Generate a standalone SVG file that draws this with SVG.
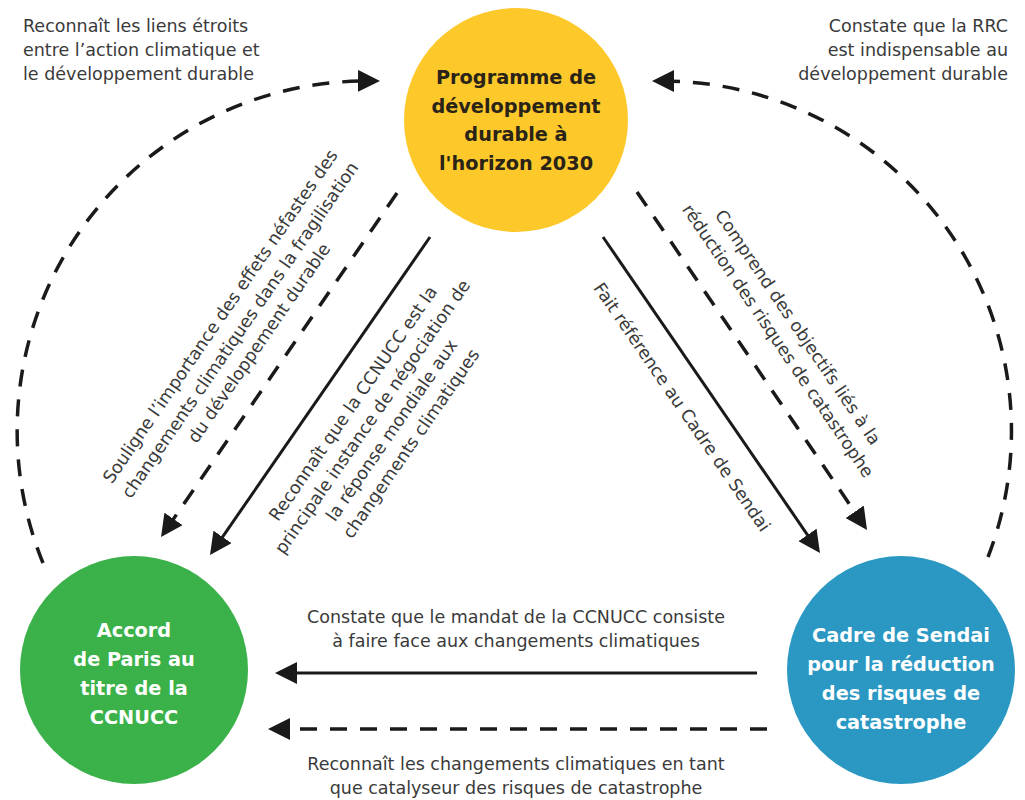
<svg xmlns="http://www.w3.org/2000/svg" width="1025" height="800" viewBox="0 0 1025 800">
<style>
.bg{fill:#ffffff}
.lbl{font-family:"DejaVu Sans","Liberation Sans",sans-serif;font-size:17.5px;fill:#3a3a3a}
.mid{text-anchor:middle}
.end{text-anchor:end}
.node-t{font-family:"DejaVu Sans","Liberation Sans",sans-serif;font-size:19.3px;font-weight:bold;text-anchor:middle}
.solid{fill:none;stroke:#1a1a1a;stroke-width:3}
.dash{fill:none;stroke:#1a1a1a;stroke-width:3.5;stroke-dasharray:17 13}
</style>
<defs>
<marker id="ah" markerUnits="userSpaceOnUse" viewBox="0 0 22 22" markerWidth="22" markerHeight="22" refX="12" refY="11" orient="auto">
<path d="M0,0 L22,11 L0,22 Z" fill="#1a1a1a"/>
</marker>
</defs>
<rect class="bg" x="0" y="0" width="1025" height="800"/>

<g id="connectors">
<path class="dash" d="M43,563 A350,350 0 0 1 370,81" marker-end="url(#ah)"/>
<path class="dash" d="M988,557 A350,350 0 0 0 662,81" marker-end="url(#ah)"/>
<path class="dash" d="M397,193 L166.7,528.8" marker-end="url(#ah)"/>
<path class="solid" d="M430,237 L215.7,546.8" marker-end="url(#ah)"/>
<path class="solid" d="M603,237 L814.3,544.8" marker-end="url(#ah)"/>
<path class="dash" d="M637,192 L861.4,521.7" marker-end="url(#ah)"/>
<path class="solid" d="M757,673 L285,673" marker-end="url(#ah)"/>
<path class="dash" d="M767,729 L278,729" marker-end="url(#ah)"/>
</g>

<g id="labels">
<text class="lbl" x="23" y="32">Reconnaît les liens étroits</text>
<text class="lbl" x="23" y="56">entre l’action climatique et</text>
<text class="lbl" x="23" y="80">le développement durable</text>

<text class="lbl end" x="1008" y="32">Constate que la RRC</text>
<text class="lbl end" x="1008" y="56">est indispensable au</text>
<text class="lbl end" x="1008" y="80">développement durable</text>

<g transform="translate(240,330) rotate(-55.5)">
<text class="lbl mid" x="0" y="-18">Souligne l’importance des effets néfastes des</text>
<text class="lbl mid" x="0" y="6">changements climatiques dans la fragilisation</text>
<text class="lbl mid" x="0" y="29">du développement durable</text>
</g>

<g transform="translate(382,423.5) rotate(-55.3)">
<text class="lbl mid" x="0" y="-29.25">Reconnaît que la CCNUCC est la</text>
<text class="lbl mid" x="0" y="-5.75">principale instance de négociation de</text>
<text class="lbl mid" x="0" y="17.75">la réponse mondiale aux</text>
<text class="lbl mid" x="0" y="41.25">changements climatiques</text>
</g>

<g transform="translate(682,407) rotate(55.5)">
<text class="lbl mid" x="0" y="6">Fait référence au Cadre de Sendai</text>
</g>

<g transform="translate(788,334) rotate(55.8)">
<text class="lbl mid" x="0" y="-6">Comprend des objectifs liés à la</text>
<text class="lbl mid" x="0" y="18">réduction des risques de catastrophe</text>
</g>

<text class="lbl mid" x="516" y="623">Constate que le mandat de la CCNUCC consiste</text>
<text class="lbl mid" x="516" y="647">à faire face aux changements climatiques</text>

<text class="lbl mid" x="516" y="770">Reconnaît les changements climatiques en tant</text>
<text class="lbl mid" x="516" y="794">que catalyseur des risques de catastrophe</text>
</g>

<g id="node-agenda2030">
<circle cx="516" cy="120" r="112" fill="#FDC82A"/>
<text class="node-t" fill="#2a2318" x="516" y="84">Programme de</text>
<text class="node-t" fill="#2a2318" x="516" y="113">développement</text>
<text class="node-t" fill="#2a2318" x="516" y="141">durable à</text>
<text class="node-t" fill="#2a2318" x="516" y="170">l'horizon 2030</text>
</g>

<g id="node-paris">
<circle cx="134" cy="670" r="114" fill="#3BB14A"/>
<text class="node-t" fill="#ffffff" x="134" y="637">Accord</text>
<text class="node-t" fill="#ffffff" x="134" y="666">de Paris au</text>
<text class="node-t" fill="#ffffff" x="134" y="695">titre de la</text>
<text class="node-t" fill="#ffffff" x="134" y="724">CCNUCC</text>
</g>

<g id="node-sendai">
<circle cx="901" cy="670" r="114" fill="#2B98C3"/>
<text class="node-t" fill="#ffffff" x="901" y="642">Cadre de Sendai</text>
<text class="node-t" fill="#ffffff" x="901" y="671">pour la réduction</text>
<text class="node-t" fill="#ffffff" x="901" y="700">des risques de</text>
<text class="node-t" fill="#ffffff" x="901" y="729">catastrophe</text>
</g>
</svg>
